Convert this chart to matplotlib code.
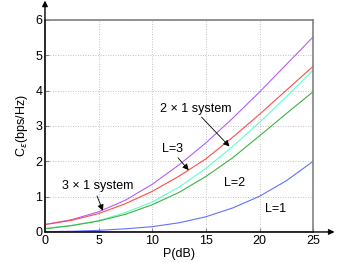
import matplotlib
matplotlib.use("Agg")
import matplotlib.pyplot as plt

plt.rcParams['font.family'] = ['Liberation Sans', 'DejaVu Sans']

P = [0, 2.5, 5, 7.5, 10, 12.5, 15, 17.5, 20, 22.5, 25]
purple = [0.21, 0.35, 0.57, 0.90, 1.35, 1.90, 2.52, 3.22, 3.96, 4.74, 5.52]
red = [0.21, 0.33, 0.52, 0.80, 1.15, 1.58, 2.07, 2.68, 3.33, 4.01, 4.69]
cyan = [0.10, 0.19, 0.32, 0.55, 0.85, 1.27, 1.80, 2.42, 3.10, 3.83, 4.58]
green = [0.09, 0.18, 0.31, 0.50, 0.77, 1.12, 1.57, 2.10, 2.72, 3.35, 3.97]
blue = [0.01, 0.02, 0.045, 0.09, 0.15, 0.26, 0.43, 0.68, 1.01, 1.45, 2.00]

xticks = [0, 5, 10, 15, 20, 25]
yticks = [0, 1, 2, 3, 4, 5, 6]

fig = plt.figure(figsize=(3.46, 2.63), dpi=100)
ax = fig.add_axes([0.130, 0.118, 0.775, 0.806])

lw = 0.8
ax.plot(P, purple, color='#b060ff', lw=lw)
ax.plot(P, red, color='#ff4c4c', lw=lw)
ax.plot(P, cyan, color='#60ffcc', lw=lw)
ax.plot(P, green, color='#40b040', lw=lw)
ax.plot(P, blue, color='#6070ff', lw=lw)

ax.set_xlim(0, 25)
ax.set_ylim(0, 6)
ax.set_xticks(xticks)
ax.set_yticks(yticks)
ax.tick_params(direction='in', labelsize=9, length=3, color='#808080', pad=2)
ax.grid(True, linestyle=(0, (1, 2)), color='#b0b0b0', lw=0.6)
for s in ax.spines.values():
    s.set_color('#808080')
    s.set_linewidth(1.2)

ax.set_xlabel('P(dB)', fontsize=9, labelpad=1)
ax.set_ylabel(r'C$_{\varepsilon}$(bps/Hz)', fontsize=9, labelpad=4)

# axis arrows
ax.annotate('', xy=(0, 6.55), xytext=(0, 0), xycoords='data',
            arrowprops=dict(arrowstyle='-|>', color='black', lw=1.0,
                            mutation_scale=8, shrinkA=0, shrinkB=0),
            annotation_clip=False)
ax.annotate('', xy=(27.0, 0), xytext=(0, 0), xycoords='data',
            arrowprops=dict(arrowstyle='-|>', color='black', lw=1.0,
                            mutation_scale=8, shrinkA=0, shrinkB=0),
            annotation_clip=False)

ap = dict(arrowstyle='-|>', color='black', lw=0.6, mutation_scale=9,
          shrinkA=0, shrinkB=0)
ax.text(4.9, 1.29, '3 × 1 system', fontsize=9, ha='center', va='center')
ax.annotate('', xy=(5.4, 0.6), xytext=(4.85, 1.02), arrowprops=ap)
ax.text(11.9, 2.35, 'L=3', fontsize=9, ha='center', va='center')
ax.annotate('', xy=(13.4, 1.75), xytext=(12.4, 2.1), arrowprops=ap)
ax.text(14.1, 3.47, '2 × 1 system', fontsize=9, ha='center', va='center')
ax.annotate('', xy=(17.2, 2.42), xytext=(14.6, 3.25), arrowprops=ap)
ax.text(17.7, 1.40, 'L=2', fontsize=9, ha='center', va='center')
ax.text(21.5, 0.65, 'L=1', fontsize=9, ha='center', va='center')

fig.savefig('out.png', dpi=100)
